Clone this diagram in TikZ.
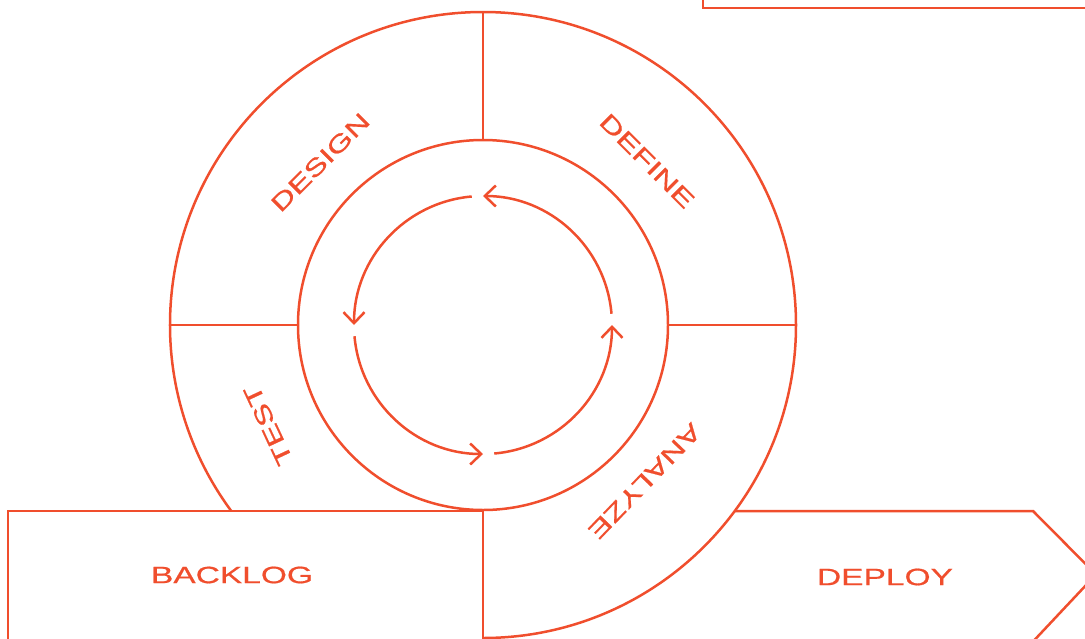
\documentclass[tikz,border=0pt]{standalone}
\usepackage{fontspec}
\usepackage{tikz}
\usetikzlibrary{arrows.meta}
\newfontfamily\stagefont[FakeStretch=1.42,FakeBold=0.6]{Liberation Sans}
\definecolor{sprint}{RGB}{240,78,45}

\begin{document}
\begin{tikzpicture}[
  x=0.5pt,y=0.5pt,
  color=sprint,
  line width=1.25pt,
  stage/.style={font=\stagefont\fontsize{11.8}{12}\selectfont,inner sep=0pt},
  spin/.style={-{Straight Barb[length=5.5pt,width=10.5pt]}}
]
  \useasboundingbox (-483,-313) rectangle (602,325);
  \clip (-483,-313) rectangle (602,325);

  % wheel
  \draw (0,-313) arc[start angle=-90,end angle=216.46,radius=313];
  \draw (0,0) circle[radius=185];
  \draw (0,185) -- (0,313);
  \draw (-313,0) -- (-185,0);
  \draw (185,0) -- (313,0);

  % inner loop
  \foreach \a in {0,90,180,270}
    \draw[spin] (\a+5:129) arc[start angle=\a+5,end angle=\a+90,radius=129];

  % boxes
  \draw (0,-330) -- (0,-186) -- (-475,-186) -- (-475,-330);
  \draw (220,340) -- (220,317) -- (620,317);
  \draw (251.7,-186) -- (550,-186) -- (613,-249.5) -- (543,-324);

  \node[stage,rotate=45] (design) at (135:230) {DESIGN};
  \node[stage,rotate=-45] (define) at (45:232) {DEFINE};
  \node[stage,rotate=115] (test) at (205:237) {TEST};
  \node[stage,rotate=-134] (analyze) at (-44:225) {ANALYZE};
  \node[stage] (backlog) at (-251,-250) {BACKLOG};
  \node[stage] (deploy) at (402,-252) {DEPLOY};
\end{tikzpicture}
\end{document}
